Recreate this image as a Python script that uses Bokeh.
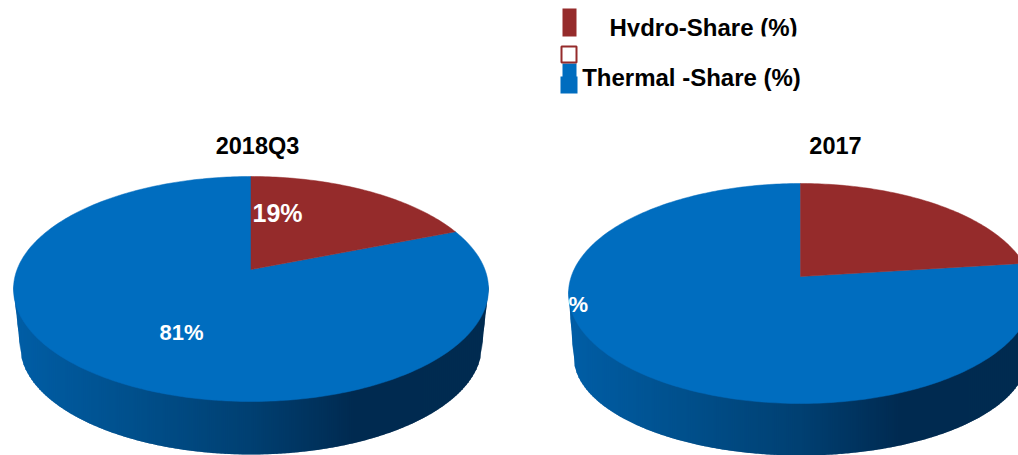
import numpy as np
from bokeh.embed import file_html
from bokeh.models import Range1d
from bokeh.plotting import figure
from bokeh.resources import INLINE
from bokeh.core.properties import value

# Shares per period, in percent
periods = ["2018Q3", "2017"]
hydro_share = [19, 23]
thermal_share = [81, 77]
series_names = ["Hydro-Share (%)", "Thermal -Share (%)"]

RED = "#952b2b"
BLUE = "#006dbf"
FONT = value("Liberation Sans")

# Disc placement on the page: apex, top/bottom of the upper face, half widths, rim
discs = [
    dict(cx=250.5, apex=269, top=176, bottom=401, rx=237.5,
         base_cy=345, base_ry=109, base_rx=231, title_x=257, label=(277, 212), label2=(181, 332)),
    dict(cx=800, apex=276, top=183, bottom=403, rx=232,
         base_cy=356, base_ry=99, base_rx=227, title_x=835, label=None, label2=(565.5, 304)),
]

p = figure(width=1018, height=455, output_backend="svg", toolbar_location=None,
           x_range=Range1d(0, 1018), y_range=Range1d(455, 0),
           min_border=0, outline_line_color=None)
p.axis.visible = False
p.grid.visible = False
p.xaxis.visible = False
p.yaxis.visible = False


def rim_colour(t):
    """Shade of the rim from left (t=0) to right (t=1)."""
    stops_t = [0.0, 0.25, 0.5, 0.72, 1.0]
    r = [0, 0, 0, 0, 0]
    g = [0x5e, 0x50, 0x40, 0x2a, 0x2c]
    b = [0xa6, 0x8c, 0x72, 0x50, 0x50]
    return "#%02x%02x%02x" % (int(np.interp(t, stops_t, r)),
                              int(np.interp(t, stops_t, g)),
                              int(np.interp(t, stops_t, b)))


def face_point(d, frac):
    """Map a clockwise fraction of the circle onto the tilted upper face."""
    up, down = d["apex"] - d["top"], d["bottom"] - d["apex"]
    k = (down - up) / (down + up)
    sy = up * (1 + k)
    sx = d["rx"] * np.sqrt(1 - k * k)
    th = 2 * np.pi * np.asarray(frac)
    den = 1 + k * np.cos(th)
    return d["cx"] + sx * np.sin(th) / den, d["apex"] - sy * np.cos(th) / den


def wedge(d, start, end):
    n = max(int((end - start) * 360), 2)
    xs, ys = face_point(d, np.linspace(start, end, n))
    return [d["cx"], *xs], [d["apex"], *ys]


for d, per, hydro, thermal in zip(discs, periods, hydro_share, thermal_share):
    cy = (d["top"] + d["bottom"]) / 2
    ry = (d["bottom"] - d["top"]) / 2
    left, right = d["cx"] - d["rx"], d["cx"] + d["rx"]

    # Rim: narrow vertical strips with a left-to-right shade
    edges = np.arange(left, right, 2.0)

    def upper(x):
        u = np.clip((x - d["cx"]) / d["rx"], -1, 1)
        return cy + ry * np.sqrt(1 - u * u)

    def lower(x):
        u = np.clip((x - d["cx"]) / d["base_rx"], -1, 1)
        y = d["base_cy"] + d["base_ry"] * np.sqrt(1 - u * u)
        base_l, base_r = d["cx"] - d["base_rx"], d["cx"] + d["base_rx"]
        if x < base_l:
            return cy + (d["base_cy"] - cy) * (x - left) / (base_l - left)
        if x > base_r:
            return cy + (d["base_cy"] - cy) * (right - x) / (right - base_r)
        return y

    sx, sy, sc = [], [], []
    for x0 in edges:
        x1 = min(x0 + 3, right)
        sx.append([x0, x1, x1, x0])
        sy.append([upper(x0) - 4, upper(x1) - 4, lower(x1), lower(x0)])
        sc.append(rim_colour((x0 - left) / (right - left)))
    p.patches(sx, sy, fill_color=sc, line_color=None)

    # Upper face
    split = hydro / (hydro + thermal)
    bx, by = wedge(d, split, 1.0)
    p.patch(bx, by, fill_color=BLUE, line_color=BLUE, line_width=0.5)
    rx_, ry_ = wedge(d, 0.0, split)
    p.patch(rx_, ry_, fill_color=RED, line_color=RED, line_width=0.5)

    # Period title
    p.text([d["title_x"]], [145], text=[per], text_font=FONT, text_font_style="bold",
           text_font_size="23.5px", text_color="#000000", text_align="center", text_baseline="middle")

    # Value labels
    if d["label"]:
        p.text([d["label"][0]], [d["label"][1]], text=[f"{hydro}%"], text_font=FONT,
               text_font_style="bold", text_font_size="25px", text_color="#ffffff",
               text_align="center", text_baseline="middle")
    p.text([d["label2"][0]], [d["label2"][1]], text=[f"{thermal}%"], text_font=FONT,
           text_font_style="bold", text_font_size="22px", text_color="#ffffff",
           text_align="center", text_baseline="middle")

# Legend swatches
p.quad(left=[562], right=[576], top=[8], bottom=[36], fill_color=RED, line_color=None)
p.quad(left=[562], right=[576], top=[63], bottom=[77], fill_color=BLUE, line_color=None)
p.quad(left=[560], right=[577], top=[76], bottom=[93], fill_color=BLUE, line_color=None)
p.quad(left=[561], right=[576], top=[46], bottom=[62], fill_color="#ffffff", line_color=RED, line_width=2)

# Legend entries; the upper one is trimmed along its lower edge
p.text([703], [27], text=[series_names[0]], text_font=FONT, text_font_style="bold",
       text_font_size="24px", text_color="#000000", text_align="center", text_baseline="middle")
p.quad(left=[600], right=[810], top=[36], bottom=[44], fill_color="#ffffff", line_color=None)
p.text([691], [77], text=[series_names[1]], text_font=FONT, text_font_style="bold",
       text_font_size="24px", text_color="#000000", text_align="center", text_baseline="middle")

open("out.html", "w").write(file_html(p, INLINE))
